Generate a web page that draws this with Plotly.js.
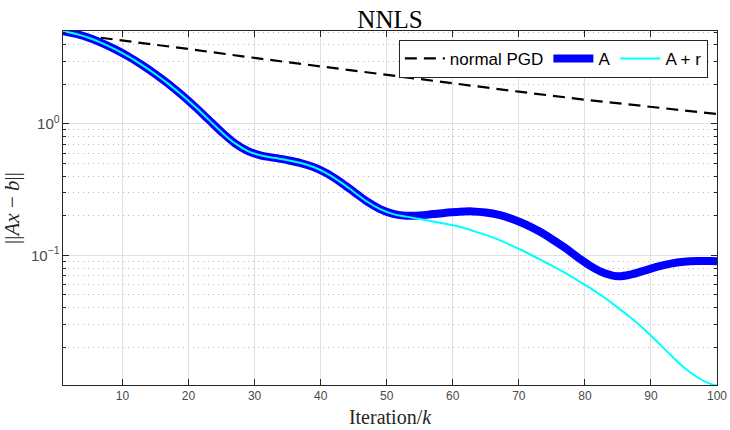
<!DOCTYPE html>
<html>
<head>
<meta charset="utf-8">
<script src="https://cdn.plot.ly/plotly-3.0.1.min.js"></script>
<style>html,body{margin:0;padding:0;background:#fff;}#chart{width:730px;height:430px;}</style>
</head>
<body>
<div id="chart"></div>
<script>
// ---- data ----
var seriesNames = ["normal PGD", "A", "A + r"];

var iterPGD = [1, 10, 20, 30, 40, 50, 60, 70, 80, 90, 100];
var normPGD = [4.93, 4.34, 3.72, 3.18, 2.74, 2.36, 2.04, 1.76, 1.53, 1.35, 1.19];

var iterA = [1, 3, 5, 7, 9, 11, 13, 15, 17, 19, 21, 23, 25, 27, 29, 31, 33, 35, 37, 39, 41, 43, 45, 47, 49, 51, 53,
             55, 57, 59, 61, 63, 65, 67, 69, 71, 73, 75, 77, 79, 81, 83, 85, 87, 89, 91, 93, 95, 97, 99, 100];
var normA = [5.08, 4.84, 4.51, 4.11, 3.68, 3.24, 2.80, 2.39, 2.01, 1.66, 1.35, 1.084, 0.869, 0.714, 0.622, 0.575, 0.552, 0.530, 0.504, 0.468, 0.419, 0.361, 0.305, 0.257, 0.225, 0.207, 0.200,
             0.201, 0.206, 0.211, 0.215, 0.216, 0.212, 0.203, 0.189, 0.172, 0.153, 0.133, 0.114, 0.096, 0.082, 0.073, 0.0692, 0.0715, 0.0765, 0.082, 0.0865, 0.0893, 0.0905, 0.0905, 0.0903];

var iterAr = [1, 3, 5, 7, 9, 11, 13, 15, 17, 19, 21, 23, 25, 27, 29, 31, 33, 35, 37, 39, 41, 43, 45, 47, 49, 51, 53,
              55, 57, 59, 61, 63, 65, 67, 69, 71, 73, 75, 77, 79, 81, 83, 85, 87, 89, 91, 93, 95, 97, 99, 100];
var normAr = [5.08, 4.84, 4.51, 4.11, 3.68, 3.24, 2.80, 2.39, 2.01, 1.66, 1.35, 1.084, 0.869, 0.714, 0.622, 0.575, 0.552, 0.530, 0.504, 0.468, 0.419, 0.361, 0.305, 0.257, 0.225, 0.206, 0.197,
              0.189, 0.181, 0.173, 0.165, 0.154, 0.143, 0.131, 0.118, 0.106, 0.094, 0.0835, 0.0735, 0.064, 0.0555, 0.0475, 0.040, 0.0333, 0.0273, 0.0219, 0.0174, 0.0140, 0.0118, 0.0105, 0.0102];

var xTickVals = [10, 20, 30, 40, 50, 60, 70, 80, 90, 100];
var xTickText = ["10", "20", "30", "40", "50", "60", "70", "80", "90", "100"];
var yLabelAlias = {"1": "10<sup>0</sup>"};

// ---- traces ----
var traces = [
  {x: iterPGD, y: normPGD, name: seriesNames[0], type: "scatter", mode: "lines",
   line: {color: "#000000", width: 2.2, dash: "12px,7px"}},
  {x: iterA, y: normA, name: seriesNames[1], type: "scatter", mode: "lines",
   line: {color: "#0000ff", width: 8, shape: "spline", smoothing: 1}},
  {x: iterAr, y: normAr, name: seriesNames[2], type: "scatter", mode: "lines",
   line: {color: "#00ffff", width: 2, shape: "spline", smoothing: 1}}
];

var tickFont = {family: "Liberation Sans, Arial, sans-serif", size: 12, color: "#4a4a4a"};
var serif = "Liberation Serif, Times New Roman, serif";

var layout = {
  width: 730, height: 430,
  margin: {l: 63, r: 13, t: 31, b: 45},
  paper_bgcolor: "#ffffff", plot_bgcolor: "#ffffff",
  showlegend: true,
  title: {text: "NNLS", font: {family: serif, size: 25, color: "#000"},
          x: 0.5, xref: "paper", xanchor: "center", y: 1, yref: "paper", yanchor: "bottom", pad: {b: 3}},
  xaxis: {
    range: [1, 100], tickmode: "array", tickvals: xTickVals, ticktext: xTickText,
    showgrid: true, gridcolor: "#e0e0e0", gridwidth: 1, zeroline: false,
    ticks: "inside", ticklen: 6, tickcolor: "#262626", mirror: "ticks",
    showline: true, linecolor: "#262626", linewidth: 1,
    tickfont: tickFont,
    title: {text: "Iteration/<i>k</i>", font: {family: serif, size: 20, color: "#262626"}, standoff: 7}
  },
  yaxis: {
    type: "log", range: [Math.log10(0.0103), Math.log10(5.1)], dtick: 1,
    exponentformat: "power", labelalias: yLabelAlias,
    showgrid: true, gridcolor: "#e0e0e0", gridwidth: 1, zeroline: false,
    ticks: "inside", ticklen: 6, tickcolor: "#262626", mirror: "ticks",
    showline: true, linecolor: "#262626", linewidth: 1,
    tickfont: tickFont,
    minor: {dtick: "D1", showgrid: true, griddash: "1px,4px", gridcolor: "#b8b8b8", gridwidth: 1,
            ticks: "inside", ticklen: 3, tickcolor: "#262626"},
    title: {text: "||<i>Ax</i> \u2212 <i>b</i>||", font: {family: serif, size: 21, color: "#262626"}, standoff: 5}
  },
  legend: {
    orientation: "h", x: 0.986, xanchor: "right", y: 0.975, yanchor: "top",
    bgcolor: "#ffffff", bordercolor: "#262626", borderwidth: 1,
    font: {family: "Liberation Sans, Arial, sans-serif", size: 17, color: "#000"},
    itemwidth: 40, tracegroupgap: 0
  }
};

Plotly.newPlot("chart", traces, layout, {staticPlot: true, displayModeBar: false});
</script>
</body>
</html>
